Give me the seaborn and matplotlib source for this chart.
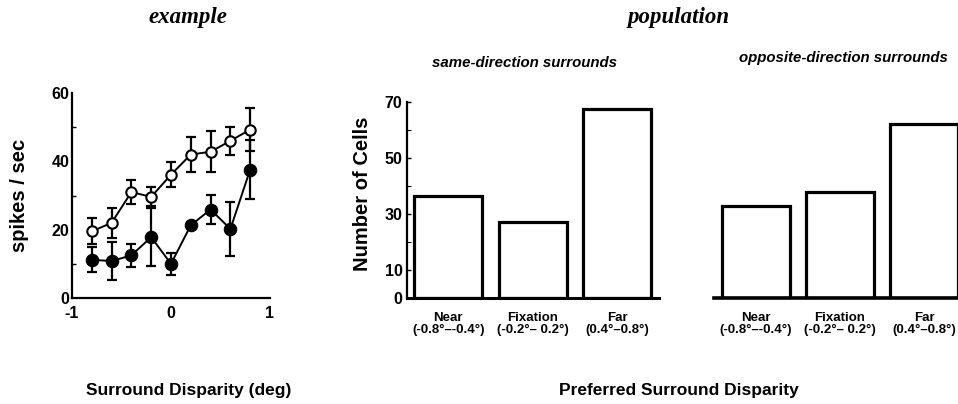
import numpy as np
import pandas as pd
import matplotlib
matplotlib.use("Agg")
import matplotlib.pyplot as plt
import seaborn as sns

# ---- data ----
disparity = [-0.8, -0.6, -0.4, -0.2, 0.0, 0.2, 0.4, 0.6, 0.8]
open_rate = [19.5, 22.0, 31.0, 29.6, 36.1, 42.0, 42.8, 46.0, 49.3]
open_err = [3.8, 4.3, 3.5, 2.8, 3.6, 5.0, 6.0, 4.0, 6.3]
filled_rate = [11.2, 10.8, 12.5, 17.8, 10.0, 21.3, 25.9, 20.2, 37.6]
filled_err = [3.7, 5.5, 3.4, 8.5, 3.2, 0.8, 4.3, 7.8, 8.6]

categories = ["Near\n(-0.8°–-0.4°)", "Fixation\n(-0.2°– 0.2°)", "Far\n(0.4°–0.8°)"]
same_counts = [36.4, 27.3, 67.4]
opp_counts = [33.0, 38.0, 62.1]

sns.set_style("white")
plt.rcParams['font.family'] = ['Liberation Sans', 'DejaVu Sans']
plt.rcParams['axes.linewidth'] = 1.6
for k in ['text.color', 'axes.labelcolor', 'xtick.color', 'ytick.color', 'axes.edgecolor']:
    plt.rcParams[k] = 'black'

fig = plt.figure(figsize=(9.58, 4.04), dpi=100)
W, H = 958, 404

def axrect(l, r, b, t):
    return [l / W, 1 - b / H, (r - l) / W, (b - t) / H]

# ---- left: example ----
ax1 = fig.add_axes(axrect(72, 270, 298, 93))
df_line = pd.DataFrame({"x": disparity * 2,
                        "y": open_rate + filled_rate,
                        "cond": ["open"] * 9 + ["filled"] * 9})
ax1.errorbar(disparity, open_rate, yerr=open_err, fmt='none', ecolor='black',
             elinewidth=1.6, capsize=3.5, capthick=1.6, zorder=2)
ax1.errorbar(disparity, filled_rate, yerr=filled_err, fmt='none', ecolor='black',
             elinewidth=1.6, capsize=3.5, capthick=1.6, zorder=2)
sns.lineplot(data=df_line[df_line.cond == "open"], x="x", y="y", ax=ax1,
             color='black', lw=1.4, marker='o', markersize=7.5,
             markerfacecolor='white', markeredgecolor='black', markeredgewidth=1.5,
             zorder=3, clip_on=False)
sns.lineplot(data=df_line[df_line.cond == "filled"], x="x", y="y", ax=ax1,
             color='black', lw=1.4, marker='o', markersize=9,
             markerfacecolor='black', markeredgecolor='black',
             zorder=3, clip_on=False)
ax1.set_xlim(-1, 1)
ax1.set_ylim(0, 60)
ax1.set_xticks([-1, 0, 1])
ax1.set_xticklabels(["-1", "0", "1"])
ax1.set_yticks([0, 20, 40, 60])
ax1.set_yticks([10, 30, 50], minor=True)
sns.despine(ax=ax1)
ax1.tick_params(axis='both', which='major', direction='in', length=4, width=1.2,
                labelsize=11.5, pad=2)
ax1.tick_params(axis='x', which='major', pad=6)
ax1.tick_params(axis='y', which='minor', direction='in', length=3, width=1.0, left=True)
for lab in ax1.get_xticklabels() + ax1.get_yticklabels():
    lab.set_fontweight('bold')
ax1.set_xlabel("")
ax1.set_ylabel("spikes / sec", fontsize=14.5, fontweight='bold')
ax1.yaxis.set_label_coords(-0.217, 0.5)

# ---- middle: same-direction ----
df_same = pd.DataFrame({"cat": categories, "n": same_counts})
df_opp = pd.DataFrame({"cat": categories, "n": opp_counts})

ax2 = fig.add_axes(axrect(406.7, 658.7, 298, 102))
sns.barplot(data=df_same, x="cat", y="n", ax=ax2, color='white',
            edgecolor='black', linewidth=2.3, width=0.8, saturation=1)
ax2.set_xlim(-0.49, 2.49)
ax2.set_ylim(0, 70)
ax2.set_yticks([0, 10, 30, 50, 70])
ax2.set_yticks([20, 40, 60], minor=True)
sns.despine(ax=ax2)
ax2.tick_params(axis='y', which='major', direction='in', length=3, width=1.0,
                labelsize=11.5, pad=3, left=True)
ax2.tick_params(axis='y', which='minor', direction='in', length=3, width=0.8, left=True)
ax2.tick_params(axis='x', length=0, labelsize=9.5, pad=10)
for lab in ax2.get_xticklabels() + ax2.get_yticklabels():
    lab.set_fontweight('bold')
for lab in ax2.get_xticklabels():
    lab.set_linespacing(1.0)
ax2.set_xlabel("")
ax2.set_ylabel("Number of Cells", fontsize=14.5, fontweight='bold')
ax2.yaxis.set_label_coords(-0.138, 0.53)
ax2.spines['bottom'].set_linewidth(2.2)

# ---- right: opposite-direction ----
ax3 = fig.add_axes(axrect(714, 966, 298, 102))
sns.barplot(data=df_opp, x="cat", y="n", ax=ax3, color='white',
            edgecolor='black', linewidth=2.3, width=0.8, saturation=1)
ax3.set_xlim(-0.5, 2.5)
ax3.set_ylim(0, 70)
ax3.set_yticks([])
sns.despine(ax=ax3, left=True)
ax3.tick_params(axis='x', length=0, labelsize=9.5, pad=10)
for lab in ax3.get_xticklabels():
    lab.set_fontweight('bold')
    lab.set_linespacing(1.0)
ax3.set_xlabel("")
ax3.set_ylabel("")
ax3.spines['bottom'].set_linewidth(2.6)

# ---- texts ----
serif = ['Liberation Serif', 'DejaVu Serif']
fig.text(188 / W, 1 - 17 / H, "example", ha='center', va='center',
         fontsize=16.5, fontstyle='italic', fontweight='bold', family=serif)
fig.text(679 / W, 1 - 17 / H, "population", ha='center', va='center',
         fontsize=16.5, fontstyle='italic', fontweight='bold', family=serif)
fig.text(525 / W, 1 - 63 / H, "same-direction surrounds", ha='center', va='center',
         fontsize=10.8, fontstyle='italic', fontweight='bold')
fig.text(843 / W, 1 - 58 / H, "opposite-direction surrounds", ha='center', va='center',
         fontsize=10.8, fontstyle='italic', fontweight='bold')
fig.text(189 / W, 1 - 390 / H, "Surround Disparity (deg)", ha='center', va='center',
         fontsize=12.5, fontweight='bold')
fig.text(679 / W, 1 - 390 / H, "Preferred Surround Disparity", ha='center', va='center',
         fontsize=12.5, fontweight='bold')

fig.savefig("out.png", dpi=100, facecolor='white')
